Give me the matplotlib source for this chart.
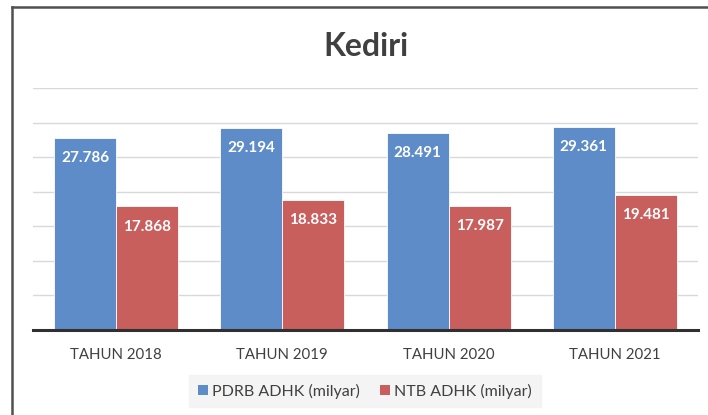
import matplotlib
matplotlib.use("Agg")
import matplotlib.pyplot as plt
import numpy as np
from matplotlib.lines import Line2D
from matplotlib.patches import Patch

categories = ["TAHUN 2018", "TAHUN 2019", "TAHUN 2020", "TAHUN 2021"]
pdrb = [27.786, 29.194, 28.491, 29.361]
ntb = [17.868, 18.833, 17.987, 19.481]
series_names = ["PDRB ADHK (milyar)", "NTB ADHK (milyar)"]

plt.rcParams['font.family'] = ['Lato', 'DejaVu Sans']

blue = '#5E8CC8'
red = '#C85F5D'
txt = '#404040'

fig = plt.figure(figsize=(7.08, 4.15), dpi=100)
ax = fig.add_axes([33/708, 85/415, 665/708, 242/415])

x = np.arange(len(categories))
w = 0.3735
b1 = ax.bar(x - w/2, pdrb, w, color=blue, edgecolor='white', linewidth=0.6, zorder=3)
b2 = ax.bar(x + w/2, ntb, w, color=red, edgecolor='white', linewidth=0.6, zorder=3)

for bars, vals in ((b1, pdrb), (b2, ntb)):
    for r, v in zip(bars, vals):
        ax.annotate(f"{v:.3f}", (r.get_x() + r.get_width()/2, v),
                    xytext=(0, -14.5), textcoords='offset points',
                    ha='center', va='center', color='white',
                    fontsize=11, fontweight='bold', zorder=4)

ax.set_xlim(-0.5, len(categories) - 0.5)
ax.set_ylim(0, 35)
ax.set_yticks(np.arange(0, 36, 5))
ax.yaxis.grid(True, color='#D9D9D9', linewidth=1)
ax.set_axisbelow(True)
ax.tick_params(axis='y', left=False, labelleft=False)
ax.tick_params(axis='x', length=0, pad=13, labelsize=10.8, labelcolor=txt)
ax.set_xticks(x)
ax.set_xticklabels(categories)
for s in ['top', 'right', 'left']:
    ax.spines[s].set_visible(False)
ax.spines['bottom'].set_color('#303030')
ax.spines['bottom'].set_linewidth(2.2)
ax.spines['bottom'].set_zorder(5)

fig.text(366/708, 1 - 56/415, "Kediri", ha='center', va='baseline',
         fontsize=23, fontweight='bold', color=txt)

handles = [Patch(facecolor=blue), Patch(facecolor=red)]
leg = fig.legend(handles, series_names, loc='center',
                 bbox_to_anchor=(365/708, 1 - 391/415), ncol=2, frameon=True,
                 facecolor='#F2F2F2', edgecolor='#F2F2F2', fancybox=False,
                 fontsize=11.5, handlelength=0.6, handleheight=0.6,
                 handletextpad=0.25, columnspacing=1.3, labelcolor=txt,
                 borderpad=0.55, borderaxespad=0)

# outer frame
fig.add_artist(Line2D([12/708, 1], [1 - 7/415, 1 - 7/415], color='#505050', linewidth=1.8))
fig.add_artist(Line2D([12/708, 12/708], [0, 1 - 7/415], color='#505050', linewidth=1.8))

fig.savefig("out.png", dpi=100)
